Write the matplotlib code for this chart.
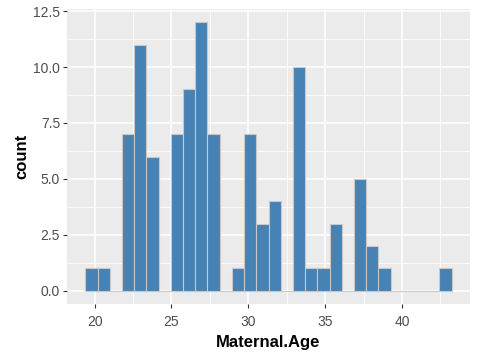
import matplotlib
matplotlib.use("Agg")
import matplotlib.pyplot as plt
import numpy as np

# histogram bins (30 bins) and counts
bin_start = 19.39
bin_width = 0.795
counts = [1, 1, 0, 7, 11, 6, 0, 7, 9, 12, 7, 0, 1, 7, 3, 4, 0,
          10, 1, 1, 3, 0, 5, 2, 1, 0, 0, 0, 0, 1]
x_ticks = [20, 25, 30, 35, 40]
y_ticks = [0.0, 2.5, 5.0, 7.5, 10.0, 12.5]

plt.rcParams['font.family'] = ['Liberation Sans', 'DejaVu Sans']

fig = plt.figure(figsize=(4.8, 3.6), dpi=100)
ax = fig.add_axes([67/480, 1-304/360, (470-67)/480, (304-9)/360])
ax.set_facecolor('#EBEBEB')

lefts = bin_start + bin_width*np.arange(len(counts))
ax.bar(lefts, counts, width=bin_width, align='edge', color='#4682B4',
       edgecolor='#C8C8C8', linewidth=0.8, zorder=3)

xmin = bin_start
xmax = bin_start + bin_width*len(counts)
pad = (xmax - xmin)*0.05
ax.set_xlim(xmin - pad, xmax + pad)
ax.set_ylim(-0.6, 12.6)

ax.set_xticks(x_ticks)
ax.set_xticks([22.5, 27.5, 32.5, 37.5, 42.5], minor=True)
ax.set_yticks(y_ticks)
ax.set_yticklabels([f"{v:.1f}" for v in y_ticks])
ax.set_yticks([1.25, 3.75, 6.25, 8.75, 11.25], minor=True)

ax.grid(which='major', color='white', linewidth=1.1, zorder=0)
ax.grid(which='minor', color='white', linewidth=0.55, zorder=0)
ax.set_axisbelow(True)
for s in ax.spines.values():
    s.set_visible(False)

ax.tick_params(which='major', length=3, width=0.8, color='#333333',
               labelcolor='#4D4D4D', labelsize=10)
ax.tick_params(axis='x', which='major', pad=5)
ax.tick_params(axis='y', which='major', pad=2)
ax.tick_params(which='minor', length=0)

ax.set_xlabel('Maternal.Age', fontsize=12, fontweight='bold', labelpad=4)
ax.set_ylabel('count', fontsize=12, fontweight='bold', labelpad=3)

fig.savefig('out.png', dpi=100)
